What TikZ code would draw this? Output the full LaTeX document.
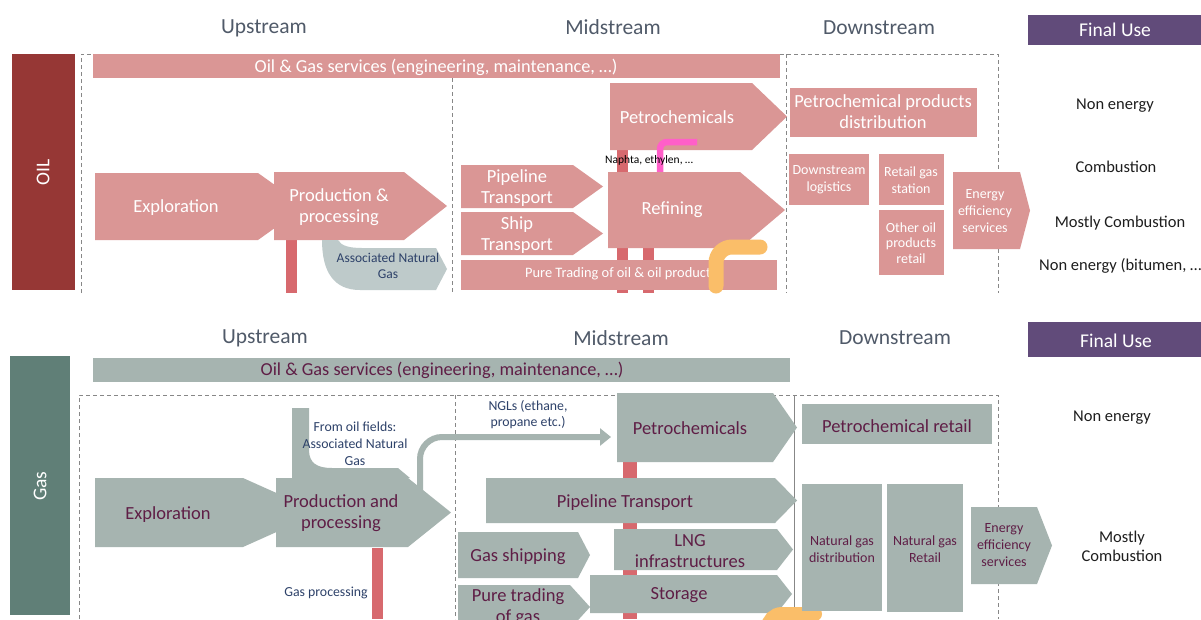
\documentclass[tikz,border=0pt]{standalone}
\usepackage{fontspec}
\setmainfont{Carlito}
\usetikzlibrary{arrows.meta}
\definecolor{oilfill}{RGB}{218,150,149}
\definecolor{oildark}{RGB}{150,55,53}
\definecolor{pillar}{RGB}{215,105,110}
\definecolor{gasfill}{RGB}{166,180,176}
\definecolor{gasdark}{RGB}{96,127,119}
\definecolor{gastext}{RGB}{95,30,70}
\definecolor{bluetext}{RGB}{45,65,105}
\definecolor{hdrc}{RGB}{80,90,105}
\definecolor{finalc}{RGB}{97,75,122}
\definecolor{pinkc}{RGB}{255,95,200}
\definecolor{orangec}{RGB}{250,190,105}
\definecolor{assocc}{RGB}{190,202,202}
\definecolor{dashc}{RGB}{135,135,135}
\definecolor{fintext}{RGB}{30,30,30}
\newcommand\pentbox[6]{\fill[#1] (#2,#3) -- (#6,#3) -- (#4,{(#3+#5)/2}) -- (#6,#5) -- (#2,#5) -- cycle;}
\tikzset{
 hdr/.style={text=hdrc, font=\fontsize{21.5}{24}\selectfont, inner sep=0},
 big/.style={font=\fontsize{18.5}{21}\selectfont, align=center, inner sep=0},
 sml/.style={font=\fontsize{14}{17}\selectfont, align=center, inner sep=0},
 tiny/.style={font=\fontsize{13.8}{17}\selectfont, align=center, inner sep=0, text=bluetext},
 wt/.style={text=white}, mt/.style={text=gastext},
 fin/.style={font=\fontsize{16.5}{19}\selectfont, text=fintext, align=center, inner sep=0},
 fuse/.style={font=\fontsize{19.5}{22}\selectfont, text=white, inner sep=0},
 svc/.style={font=\fontsize{18.3}{20}\selectfont, inner sep=0},
 dsh/.style={draw=dashc, line width=0.8pt, dash pattern=on 4pt off 3pt},
}
\begin{document}
\begin{tikzpicture}[x=1pt,y=-1pt]
\useasboundingbox (0,0) rectangle (1201,619);
\clip (0,0) rectangle (1201,619);
\fill[white] (0,0) rectangle (1201,619);
% ================= OIL =================
\node[hdr] (up1) at (264,28) {Upstream};
\node[hdr] (mid1) at (613,27) {Midstream};
\node[hdr] (down1) at (879,28) {Downstream};
\fill[finalc] (1028,15) rectangle (1201,45);
\node[fuse] (fu1) at (1115,30) {Final Use};
\fill[oildark] (12,54) rectangle (75,290);
\node[fuse,rotate=90] (oil) at (43,172) {OIL};
\draw[dsh] (81,293) -- (81,54) -- (998,54) -- (998,293);
\draw[dsh] (452,78) -- (452,293);
\draw[dsh] (786,54) -- (786,293);
\fill[oilfill] (93,54) rectangle (780,78);
\node[svc,wt] (osv) at (436,67) {Oil \& Gas services (engineering, maintenance, …)};
% pillars
\fill[pillar] (286,240) rectangle (297,293);
\fill[pillar] (617,140) rectangle (628,293);
\fill[pillar] (643,240) rectangle (654,293);
% upstream
\pentbox{oilfill}{95}{173}{305}{240}{258}
\pentbox{oilfill}{274}{172}{447}{240}{404}
\node[big,wt] (oexp) at (176,208) {Exploration};
\node[big,wt] (oprod) at (339,207) {Production \&\\processing};
\fill[assocc] (322,240) -- (338,240) .. controls (341,246) and (350,248) .. (362,248) -- (436,248) -- (447,269) -- (436,290) -- (360,290) .. controls (334,290) and (322,272) .. (322,240) -- cycle;
\node[tiny,font=\fontsize{13.5}{15.5}\selectfont] (oassoc) at (388,266) {Associated Natural\\Gas};
% midstream
\pentbox{oilfill}{461}{165}{603}{208}{573}
\pentbox{oilfill}{461}{212}{603}{255}{573}
\fill[oilfill] (461,260) rectangle (777,290);
\pentbox{oilfill}{610}{83}{787}{150}{752}
\draw[pinkc, line width=6.5pt, rounded corners=7pt] (660,176) -- (660,142) -- (697,142);
\pentbox{oilfill}{608}{172}{785}{248}{740}
\node[big,wt] (opipe) at (517,188) {Pipeline\\Transport};
\node[big,wt] (oship) at (517,235) {Ship\\Transport};
\node[wt,font=\fontsize{14.4}{17}\selectfont,inner sep=0,anchor=west] (otrade) at (525,274) {Pure Trading of oil \& oil products};
\node[big,wt] (opetro) at (677,117) {Petrochemicals};
\node[big,wt] (oref) at (672,210) {Refining};
\node[font=\fontsize{11.5}{13}\selectfont,inner sep=0,anchor=west,text=black] (naph) at (605,160) {Naphta, ethylen, …};
\draw[orangec, line width=15pt, line cap=round, rounded corners=16pt] (716,286) -- (716,247) -- (760,247);
% downstream
\fill[oilfill] (790,88) rectangle (977,137);
\node[big,wt] (opdist) at (883,112) {Petrochemical products\\distribution};
\fill[oilfill] (789,154) rectangle (869,205);
\node[sml,wt] (olog) at (829,180) {Downstream\\logistics};
\fill[oilfill] (879,154) rectangle (944,205);
\node[sml,wt] (oret) at (911,180) {Retail gas\\station};
\fill[oilfill] (879,210) rectangle (944,275);
\node[sml,wt,font=\fontsize{14}{15.5}\selectfont] (oother) at (911,243) {Other oil\\products\\retail};
\pentbox{oilfill}{953}{172}{1030}{249}{1020}
\node[sml,wt] (oeff) at (985,211) {Energy\\efficiency\\services};
% final use
\node[fin] (f1) at (1115,106) {Non energy};
\node[fin] (f2) at (1116,167) {Combustion};
\node[fin] (f3) at (1120,223) {Mostly Combustion};
\node[fin,anchor=west] (f4) at (1039,266) {Non energy (bitumen, …};
% ================= GAS =================
\node[hdr] (up2) at (265,338) {Upstream};
\node[hdr] (mid2) at (621,338) {Midstream};
\node[hdr] (down2) at (895,338) {Downstream};
\fill[finalc] (1028,322) rectangle (1201,357);
\node[fuse] (fu2) at (1116,341) {Final Use};
\fill[gasdark] (10,356) rectangle (70,615);
\node[fuse,rotate=90] (gas) at (40,486) {Gas};
\draw[dsh] (79,619) -- (79,395) -- (998,395) -- (998,619);
\draw[dsh] (455,395) -- (455,619);
\draw[dashc, line width=1pt] (794,395) -- (794,619);
\fill[gasfill] (93,358) rectangle (790,382);
\node[svc,mt] (gsv) at (442,370) {Oil \& Gas services (engineering, maintenance, …)};
% pillars
\fill[pillar] (372,548) rectangle (383,619);
\fill[pillar] (623,462) rectangle (637,619);
% upstream
\coordinate (nglstart) at (420,492);
\coordinate (ngltip) at (611,437);
\draw[gasfill, line width=6pt, rounded corners=22pt, -{Triangle[length=11pt,width=17pt]}] (nglstart) -- (420,437) -- (ngltip);
\pentbox{gasfill}{95}{478}{320}{547}{243}
\fill[gasfill] (292,408) -- (309,408) -- (309,450) .. controls (309,463) and (317,468) .. (332,468) -- (398,468) -- (410,478) -- (292,478) -- cycle;
\pentbox{gasfill}{276}{478}{451}{547}{408}
\node[big,mt] (gexp) at (168,515) {Exploration};
\node[big,mt] (gprod) at (341,513) {Production and\\processing};
\node[tiny] (gfrom) at (355,444) {From oil fields:\\Associated Natural\\Gas};
\node[tiny] (gproc) at (326,593) {Gas processing};
\node[tiny,font=\fontsize{13.8}{16}\selectfont] (ngl) at (528,415) {NGLs (ethane,\\propane etc.)};
% midstream
\pentbox{gasfill}{617}{393}{797}{462}{773}
\pentbox{gasfill}{486}{478}{797}{523}{775}
\pentbox{gasfill}{458}{532}{590}{578}{578}
\pentbox{gasfill}{458}{585}{590}{629}{570}
\pentbox{gasfill}{614}{529}{793}{570}{777}
\pentbox{gasfill}{590}{575}{792}{613}{777}
\node[big,mt] (gpetro) at (690,428) {Petrochemicals};
\node[big,mt] (gpipe) at (625,503) {Pipeline Transport};
\node[big,mt] (gship) at (518,557) {Gas shipping};
\node[big,mt] (gtrade) at (518,607) {Pure trading\\of gas};
\node[big,mt] (glng) at (690,551) {LNG\\infrastructures};
\node[big,mt] (gstor) at (679,595) {Storage};
\draw[orangec, line width=14pt, line cap=round, rounded corners=14pt] (768,640) -- (768,614) -- (815,614);
% downstream
\fill[gasfill] (802,404) rectangle (992,444);
\node[big,mt] (gpret) at (897,426) {Petrochemical retail};
\fill[gasfill] (802,484) rectangle (882,611);
\node[sml,mt] (gdist) at (842,549) {Natural gas\\distribution};
\fill[gasfill] (887,484) rectangle (963,612);
\node[sml,mt] (gret) at (925,549) {Natural gas\\Retail};
\pentbox{gasfill}{971}{507}{1052}{584}{1037}
\node[sml,mt] (geff) at (1004,545) {Energy\\efficiency\\services};
\node[fin] (g1) at (1112,418) {Non energy};
\node[fin] (g2) at (1122,546) {Mostly\\Combustion};
\end{tikzpicture}
\end{document}
